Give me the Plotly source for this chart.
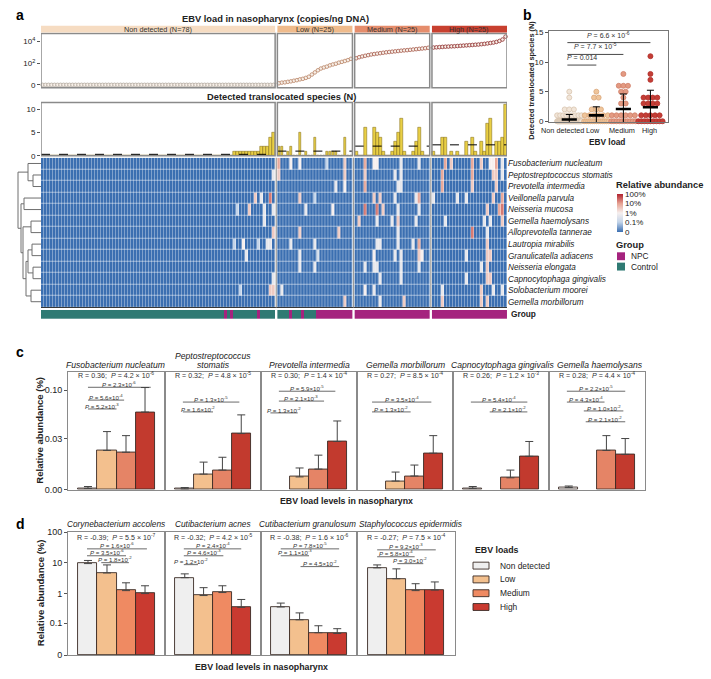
import numpy as np
import plotly.graph_objects as go

W, H = 711, 679
FONT = "Liberation Sans, Arial, sans-serif"
TXT = "#222222"


def px(x):
    return x / W


def py(y):
    return 1 - y / H


# ======================= DATA =======================
groups = ["Non detected", "Low", "Medium", "High"]
group_labels = ["Non detected (N=78)", "Low (N=25)", "Medium (N=25)", "High (N=25)"]

# EBV load in nasopharynx (copies/ng DNA), sorted inside each group
ebv_nd = [0] * 78
ebv_low = [0.4, 0.6, 0.7, 0.9, 1.1, 1.4, 1.7, 2.2, 2.6, 3.4, 4.6, 7.9, 13, 21, 31, 39, 47, 62, 75, 88,
           111, 131, 157, 190, 250]
ebv_med = [281, 354, 416, 478, 549, 630, 691, 758, 831, 911, 999, 1071, 1147, 1229, 1317, 1412, 1513,
           1584, 1697, 1819, 1949, 2088, 2238, 2398, 2630]
ebv_high = [2754, 2883, 3019, 3161, 3310, 3388, 3547, 3630, 3801, 3980, 4168, 4364, 4570, 4785, 5011,
            5247, 5622, 6025, 6606, 7243, 7942, 9119, 11219, 15135, 28183]

# detected translocated species (N) per sample
trans_nd = [0] * 64 + [1] * 9 + [2, 2, 2, 4, 5]
trans_low = [2, 2, 0, 1, 2, 0, 0, 5, 0, 1, 0, 0, 4, 0, 0, 0, 1, 1, 1, 1, 0, 0, 4, 0, 0]
trans_med = [1, 0, 0, 6, 0, 0, 6, 5, 4, 1, 0, 0, 1, 3, 5, 8, 1, 0, 0, 1, 3, 6, 1, 0, 0]
trans_high = [1, 0, 0, 4, 4, 0, 1, 0, 1, 0, 0, 3, 0, 4, 1, 0, 3, 1, 7, 8, 0, 3, 3, 4, 11]

# NPC samples (index within group); the others are controls
npc_nd = [61, 63, 72]
npc_low = [4, 8] + list(range(13, 25))
npc_med = list(range(25))
npc_high = list(range(25))

species_a = ["Fusobacterium nucleatum", "Peptostreptococcus stomatis", "Prevotella intermedia",
             "Veillonella parvula", "Neisseria mucosa", "Gemella haemolysans", "Alloprevotella tannerae",
             "Lautropia mirabilis", "Granulicatella adiacens", "Neisseria elongata",
             "Capnocytophaga gingivalis", "Solobacterium moorei", "Gemella morbillorum"]

# non-zero heatmap cells: (group N/L/M/H, sample index in group, relative abundance %)
heat_cells = [
    [("L", 0, 8), ("L", 4, 1), ("L", 7, 1), ("L", 16, 0.1), ("L", 22, 3), ("M", 3, 8), ("M", 6, 1),
     ("M", 7, 1), ("M", 15, 0.5), ("M", 21, 0.5), ("H", 4, 8), ("H", 6, 3), ("H", 13, 8), ("H", 16, 3),
     ("H", 19, 1), ("H", 20, 1), ("H", 21, 8), ("H", 23, 0.5)],
    [("N", 77, 0.5), ("L", 0, 3), ("L", 22, 3), ("M", 3, 3), ("M", 13, 0.5), ("M", 15, 0.5), ("H", 3, 8),
     ("H", 13, 8), ("H", 20, 3), ("H", 21, 3), ("H", 23, 0.5)],
    [("L", 19, 0.5), ("L", 22, 1), ("M", 3, 8), ("M", 14, 0.5), ("M", 15, 0.5), ("H", 3, 8), ("H", 13, 3),
     ("H", 21, 3)],
    [("N", 71, 3), ("N", 73, 0.5), ("N", 76, 20), ("L", 7, 3), ("L", 12, 0.1), ("M", 6, 3), ("M", 8, 3),
     ("M", 13, 0.5), ("M", 20, 0.5), ("M", 21, 8), ("H", 0, 0.5), ("H", 8, 0.5), ("H", 11, 0.5),
     ("H", 20, 3), ("H", 23, 8)],
    [("N", 65, 0.1), ("N", 69, 3), ("N", 74, 0.5), ("N", 77, 0.5), ("L", 9, 0.5), ("L", 18, 1),
     ("M", 3, 20), ("M", 7, 20), ("M", 9, 3), ("M", 14, 0.5), ("M", 21, 0.5), ("H", 18, 3), ("H", 22, 8),
     ("H", 23, 20)],
    [("N", 74, 0.5), ("M", 1, 3), ("M", 7, 0.5), ("M", 12, 0.5), ("M", 14, 3), ("M", 20, 0.5),
     ("H", 4, 0.5), ("H", 17, 0.5), ("H", 19, 0.5), ("H", 23, 3)],
    [("N", 77, 3), ("L", 7, 3), ("L", 20, 3), ("M", 14, 0.5), ("H", 13, 20), ("H", 18, 0.5)],
    [("N", 64, 0.1), ("N", 67, 1), ("N", 72, 0.1), ("N", 75, 0.5), ("N", 76, 0.5), ("L", 4, 0.5),
     ("L", 12, 0.5), ("M", 7, 0.5), ("M", 8, 0.5), ("M", 14, 0.5), ("M", 19, 0.5), ("M", 21, 8),
     ("H", 18, 3)],
    [("N", 68, 0.5), ("L", 7, 0.5), ("L", 13, 0.2), ("M", 6, 1), ("M", 13, 0.5), ("M", 15, 0.5),
     ("M", 21, 3), ("M", 22, 1), ("H", 11, 0.5), ("H", 18, 3), ("H", 19, 3)],
    [("L", 7, 0.5), ("L", 12, 0.5), ("M", 3, 0.5), ("M", 6, 0.5), ("M", 7, 0.5), ("M", 15, 0.5),
     ("M", 21, 0.5), ("H", 16, 0.5), ("H", 18, 3)],
    [("N", 77, 0.5), ("M", 8, 0.5), ("M", 15, 0.5), ("H", 11, 0.5), ("H", 18, 3), ("H", 19, 3)],
    [("N", 66, 0.1), ("N", 76, 3), ("N", 77, 3), ("L", 1, 0.5), ("M", 3, 1), ("M", 6, 0.5), ("H", 3, 0.5),
     ("H", 16, 3), ("H", 20, 0.5), ("H", 23, 0.5)],
    [("L", 22, 3), ("M", 8, 0.5), ("M", 16, 3), ("H", 3, 3), ("H", 16, 3), ("H", 18, 3)],
]

# row dendrogram: (child a, child b, merge height); leaves 0..12, new nodes 13..
dendro_merges = [(1, 2, 8), (0, 13, 13), (3, 4, 17), (5, 6, 10), (7, 8, 9), (9, 10, 8), (11, 12, 10),
                 (17, 18, 13), (20, 19, 15), (16, 21, 18), (15, 22, 20), (14, 23, 23)]

# panel b tests
b_tests = ["<i>P</i> = 6.6 × 10<sup>-6</sup>", "<i>P</i> = 7.7 × 10<sup>-5</sup>", "<i>P</i> = 0.014"]

# panel c: mean and s.e.m. relative abundance (%) for Non detected, Low, Medium, High
c_species = ["Fusobacterium nucleatum", "Peptostreptococcus<br>stomatis", "Prevotella intermedia",
             "Gemella morbillorum", "Capnocytophaga gingivalis", "Gemella haemolysans"]
c_mean = [[0.0005, 0.0206, 0.0193, 0.061],
          [0.0003, 0.0065, 0.0085, 0.035],
          [0.0, 0.0052, 0.009, 0.0277],
          [0.0, 0.0034, 0.0056, 0.0186],
          [0.0005, 0.0, 0.0048, 0.0165],
          [0.0008, 0.0, 0.0206, 0.0178]]
c_sem = [[0.0007, 0.0164, 0.0137, 0.045],
         [0.0005, 0.0064, 0.0074, 0.022],
         [0.0, 0.0044, 0.0083, 0.0213],
         [0.0, 0.0041, 0.0056, 0.0144],
         [0.0007, 0.0, 0.0037, 0.0112],
         [0.0006, 0.0, 0.0124, 0.0125]]
c_stats = ["R = 0.36;  <i>P</i> = 4.2 × 10<sup>-6</sup>", "R = 0.32;  <i>P</i> = 4.8 × 10<sup>-5</sup>",
           "R = 0.30;  <i>P</i> = 1.4 × 10<sup>-4</sup>", "R = 0.27;  <i>P</i> = 8.5 × 10<sup>-4</sup>",
           "R = 0.26;  <i>P</i> = 1.2 × 10<sup>-3</sup>", "R = 0.28;  <i>P</i> = 4.4 × 10<sup>-4</sup>"]
c_pairs = [
    [(0, 3.3, "2.3×10<sup>-6</sup>"), (0, 1.9, "5.6×10<sup>-4</sup>"), (0, 1.5, "5.2×10<sup>-3</sup>")],
    [(-0.1, 2.9, "1.3×10<sup>-5</sup>"), (-0.1, 1.5, "1.6×10<sup>-2</sup>")],
    [(-0.1, 2.9, "5.9×10<sup>-5</sup>"), (-0.1, 2.3, "2.1×10<sup>-3</sup>"), (-0.55, 0.9, "1.3×10<sup>-2</sup>")],
    [(-0.25, 2.9, "3.5×10<sup>-4</sup>"), (-0.25, 1.8, "1.3×10<sup>-2</sup>")],
    [(-0.1, 2.9, "5.4×10<sup>-4</sup>"), (0.9, 2.9, "2.1×10<sup>-2</sup>")],
    [(-0.1, 3.0, "2.2×10<sup>-5</sup>"), (-0.1, 1.9, "4.3×10<sup>-4</sup>"), (0.8, 2.9, "1.0×10<sup>-2</sup>"),
     (0.9, 3.0, "2.1×10<sup>-2</sup>")],
]
c_pair_y = [[388, 401, 410], [403, 413], [392, 402, 414], [403, 413], [403, 413], [392, 403, 412, 423]]

# panel d
d_species = ["Corynebacterium accolens", "Cutibacterium acnes", "Cutibacterium granulosum",
             "Staphylococcus epidermidis"]
d_mean = [[9.5, 4.7, 1.25, 1.0],
          [3.3, 0.86, 1.08, 0.35],
          [0.36, 0.132, 0.044, 0.041],
          [6.9, 3.05, 1.25, 1.3]]
d_sem = [[2.5, 3.9, 1.0, 0.8],
         [1.1, 0.7, 0.72, 0.29],
         [0.126, 0.096, 0.037, 0.022],
         [1.7, 3.35, 0.85, 1.1]]
d_stats = ["R = -0.39;  <i>P</i> = 5.5 × 10<sup>-7</sup>", "R = -0.32;  <i>P</i> = 4.2 × 10<sup>-5</sup>",
           "R = -0.38;  <i>P</i> = 1.6 × 10<sup>-6</sup>", "R = -0.27;  <i>P</i> = 7.5 × 10<sup>-4</sup>"]
d_pairs = [
    [(-0.05, 3.1, "1.6×10<sup>-6</sup>"), (-0.05, 2.0, "3.5×10<sup>-6</sup>"), (0.7, 2.15, "1.8×10<sup>-2</sup>")],
    [(-0.05, 3.0, "2.4×10<sup>-4</sup>"), (-0.05, 2.05, "4.6×10<sup>-3</sup>"), (-0.05, 0.7, "1.2×10<sup>-2</sup>")],
    [(0, 3.1, "7.8×10<sup>-5</sup>"), (0, 1.5, "1.1×10<sup>-3</sup>"), (1.05, 3.1, "4.5×10<sup>-2</sup>")],
    [(0, 3.05, "9.2×10<sup>-3</sup>"), (0, 1.95, "5.8×10<sup>-4</sup>"), (1.05, 2.4, "3.0×10<sup>-2</sup>")],
]
d_pair_y = [[552, 559, 566], [552, 559, 568], [552, 559, 570], [553, 560, 567]]

# ======================= STYLE =======================
HEAD_COL = ["#f6dcc2", "#efbb8c", "#e58d6c", "#c8402f"]
PT_LINE = ["#b0a79d", "#b98466", "#a65b4b", "#8e2b2b"]
B_FILL = ["#f1e5d8", "#efc59b", "#e39a82", "#c43d36"]
B_LINE = ["#d8c4ae", "#d9a678", "#d17f68", "#b0302b"]
BAR_C = ["#ffffff", "#f3c08e", "#e58466", "#c23a2e"]
BAR_D = ["#efefef", "#f3c08e", "#ef8a62", "#c93a30"]
EDGE = "#3a2a25"
FRAME = "#8a8a8a"
TEAL, MAG = "#2f7a73", "#a5237e"


def gE(v):
    return np.log10(1 + np.asarray(v, float))


def gC(v):
    return np.log10(1 + np.asarray(v, float) / 0.02)


def gD(v):
    return np.log10(1 + np.asarray(v, float) / 0.01)


offsets = [0, 78, 103, 128]
sizes = [78, 25, 25, 25]
GAP = 0.75


def pos(g, j):
    return offsets[g] + j + g * GAP


XR_A = [-0.5, pos(3, 24) + 0.5]

fig = go.Figure()
layout = {}
shapes, ann = [], []


def dom_y(top, bottom):
    return [py(bottom), py(top)]


def blank_axis(**kw):
    d = dict(showgrid=False, zeroline=False, showticklabels=False, ticks="", showline=False)
    d.update(kw)
    return d


def text(x, y, t, size=8, bold=False, xanchor="center", yanchor="middle", angle=0, color=TXT,
         xref="paper", yref="paper", italic=False):
    if bold:
        t = "<b>" + t + "</b>"
    if italic:
        t = "<i>" + t + "</i>"
    ann.append(dict(x=x, y=y, xref=xref, yref=yref, text=t, showarrow=False, xanchor=xanchor,
                    yanchor=yanchor, textangle=angle, font=dict(size=size, color=color, family=FONT)))


# ---------------- panel a : EBV load scatter ----------------
ebv_all = [ebv_nd, ebv_low, ebv_med, ebv_high]
for g in range(4):
    fig.add_trace(go.Scatter(x=[pos(g, j) for j in range(sizes[g])], y=gE(ebv_all[g]), mode="markers",
                             marker=dict(size=3.6, color="#f7efe8", line=dict(color=PT_LINE[g], width=0.8)),
                             xaxis="x", yaxis="y", showlegend=False, cliponaxis=False))
layout["xaxis"] = blank_axis(domain=[px(41), px(507)], range=XR_A, anchor="y")
layout["yaxis"] = dict(domain=dom_y(29, 84), range=[-0.27, 4.73], tickvals=[0, 2, 4],
                       ticktext=["0", "10<sup>2</sup>", "10<sup>4</sup>"], ticks="outside", ticklen=3,
                       tickcolor="#555", tickfont=dict(size=8, color=TXT), showgrid=False, zeroline=False,
                       showline=False, anchor="x")

# ---------------- panel a : translocated species bars ----------------
trans_all = [trans_nd, trans_low, trans_med, trans_high]
for g in range(4):
    fig.add_trace(go.Bar(x=[pos(g, j) for j in range(sizes[g])], y=trans_all[g], width=0.9,
                         marker=dict(color="#e9cf45", line=dict(color="#7a6512", width=0.5)),
                         xaxis="x2", yaxis="y2", showlegend=False))
    m = float(np.mean(trans_all[g]))
    shapes.append(dict(type="line", xref="x2", yref="y2", x0=pos(g, 0) - 0.5, x1=pos(g, sizes[g] - 1) + 0.5,
                       y0=m, y1=m, line=dict(color="black", width=1, dash="dash")))
layout["xaxis2"] = blank_axis(domain=[px(41), px(507)], range=XR_A, anchor="y2")
layout["yaxis2"] = dict(domain=dom_y(99, 153), range=[0, 11.5], tickvals=[0, 5, 10], ticks="outside",
                        ticklen=3, tickcolor="#555", tickfont=dict(size=8, color=TXT), showgrid=False,
                        zeroline=False, showline=False, anchor="x2")

# group boxes / headers
for g in range(4):
    x0, x1 = pos(g, 0) - 0.5, pos(g, sizes[g] - 1) + 0.5
    for ax in ["y", "y2"]:
        shapes.append(dict(type="rect", xref="x" if ax == "y" else "x2", yref=ax + " domain", x0=x0, x1=x1,
                           y0=0, y1=1, line=dict(color=FRAME, width=1.5)))
    shapes.append(dict(type="rect", xref="x", yref="paper", x0=x0, x1=x1, y0=py(28), y1=py(21),
                       fillcolor=HEAD_COL[g], line=dict(width=0)))
    text((x0 + x1) / 2, py(24.5), group_labels[g], size=7.3, xref="x", color="#333")

text(px(275), py(14), "EBV load in nasopharynx (copies/ng DNA)", size=9.3, bold=True)
text(px(281), py(93.5), "Detected translocated species (N)", size=9.3, bold=True)

# ---------------- panel a : heatmap ----------------
gcode = {"N": 0, "L": 1, "M": 2, "H": 3}
Z = np.zeros((len(species_a), 153))
for r, cells in enumerate(heat_cells):
    for gc, j, v in cells:
        Z[r, offsets[gcode[gc]] + j] = gD(v)

for g in range(4):
    fig.add_trace(go.Heatmap(x=[pos(g, j) for j in range(sizes[g])], y=list(range(len(species_a))),
                             z=Z[:, offsets[g]:offsets[g] + sizes[g]], coloraxis="coloraxis",
                             xgap=0.35, ygap=0.5, xaxis="x3", yaxis="y3", hoverinfo="skip"))
layout["xaxis3"] = blank_axis(domain=[px(41), px(507)], range=XR_A, anchor="y3")
layout["yaxis3"] = dict(domain=dom_y(155, 307), range=[12.5, -0.5], side="right", tickvals=list(range(13)),
                        ticktext=species_a, ticks="", tickfont=dict(size=8.2, color=TXT, style="italic"),
                        showgrid=False, zeroline=False, showline=False, anchor="x3")
layout["coloraxis"] = dict(
    cmin=0, cmax=4,
    colorscale=[[0, "#3b6fb1"], [0.26, "#c3d4e9"], [0.5, "#f6efee"], [0.75, "#e6a292"], [1, "#b1222e"]],
    colorbar=dict(x=px(617), xanchor="left", y=py(211), yanchor="middle", len=38, lenmode="pixels",
                  thickness=6, thicknessmode="pixels", outlinewidth=0, xpad=0, ypad=0, ticks="",
                  tickvals=[0, float(gD(0.1)), float(gD(1)), float(gD(10)), float(gD(100))],
                  ticktext=["0", "0.1%", "1%", "10%", "100%"], tickfont=dict(size=8, color=TXT, family=FONT)))
shapes.append(dict(type="line", xref="x3", yref="y3 domain", x0=XR_A[0], x1=XR_A[1], y0=0, y1=0,
                   line=dict(color="#333", width=1)))

# group bar
npc_all = [npc_nd, npc_low, npc_med, npc_high]
for g in range(4):
    flags = [1 if j in npc_all[g] else 0 for j in range(sizes[g])]
    fig.add_trace(go.Heatmap(x=[pos(g, j) for j in range(sizes[g])], y=[0], z=[flags], zmin=0, zmax=1,
                             colorscale=[[0, TEAL], [0.5, TEAL], [0.5, MAG], [1, MAG]], showscale=False,
                             xaxis="x4", yaxis="y4", hoverinfo="skip"))
layout["xaxis4"] = blank_axis(domain=[px(41), px(507)], range=XR_A, anchor="y4")
layout["yaxis4"] = blank_axis(domain=dom_y(309.5, 318.5), range=[-0.5, 0.5], anchor="x4")
text(px(509), py(314), "Group", size=8.3, bold=True, xanchor="left")

# separators across heatmap
for g in range(3):
    xs = (pos(g, sizes[g] - 1) + pos(g + 1, 0)) / 2
    shapes.append(dict(type="line", xref="x3", yref="paper", x0=xs, x1=xs, y0=py(307), y1=py(155),
                       line=dict(color="#9a9a9a", width=1.2)))

# dendrogram
node_y = {i: float(i) for i in range(13)}
node_h = {i: 0.0 for i in range(13)}
dx, dy = [], []
for k, (a, b, hgt) in enumerate(dendro_merges):
    nid = 13 + k
    dx += [node_h[a], hgt, hgt, node_h[b], None]
    dy += [node_y[a], node_y[a], node_y[b], node_y[b], None]
    node_y[nid] = (node_y[a] + node_y[b]) / 2
    node_h[nid] = hgt
fig.add_trace(go.Scatter(x=dx, y=dy, mode="lines", line=dict(color="#6e6e6e", width=1), xaxis="x5",
                         yaxis="y5", showlegend=False, hoverinfo="skip"))
layout["xaxis5"] = blank_axis(domain=[px(17), px(41)], range=[24, 0], anchor="y5")
layout["yaxis5"] = blank_axis(domain=dom_y(155, 307), range=[12.5, -0.5], anchor="x5")

# legends of panel a
text(px(614), py(183), "Relative abundance", size=9.3, bold=True, xanchor="left")
text(px(614), py(244), "Group", size=9.3, bold=True, xanchor="left")
for k, (lab, col) in enumerate([("NPC", MAG), ("Control", TEAL)]):
    yc = 255 + 10.5 * k
    shapes.append(dict(type="rect", xref="paper", yref="paper", x0=px(617), x1=px(625), y0=py(yc + 4),
                       y1=py(yc - 4), fillcolor=col, line=dict(width=0)))
    text(px(629), py(yc), lab, size=8.3, xanchor="left")

# ---------------- panel b ----------------
def swarm(vals, spacing=0.17, maxw=0.45):
    vals = np.asarray(vals)
    off = np.zeros(len(vals))
    for v in np.unique(vals):
        idx = np.where(vals == v)[0]
        n = len(idx)
        w = min(maxw, spacing * (n - 1) / 2)
        off[idx] = np.linspace(-w, w, n) if n > 1 else 0.0
    return off


for g in range(4):
    vals = np.asarray(trans_all[g], float)
    fig.add_trace(go.Scatter(x=g + swarm(vals), y=vals, mode="markers",
                             marker=dict(size=5, color=B_FILL[g], line=dict(color=B_LINE[g], width=0.8)),
                             xaxis="x6", yaxis="y6", showlegend=False, cliponaxis=False))
    m, sd = vals.mean(), vals.std(ddof=1)
    fig.add_trace(go.Scatter(x=[g, g, None, g - 0.13, g + 0.13, None, g - 0.13, g + 0.13],
                             y=[m - sd, m + sd, None, m + sd, m + sd, None, m - sd, m - sd], mode="lines",
                             line=dict(color="black", width=1), xaxis="x6", yaxis="y6", showlegend=False))
    fig.add_trace(go.Scatter(x=[g - 0.28, g + 0.28], y=[m, m], mode="lines", line=dict(color="black", width=2.6),
                             xaxis="x6", yaxis="y6", showlegend=False))
b_line = [(-0.07, 3.0, 13.3), (-0.07, 2.0, 11.3), (-0.07, 1.0, 9.5)]
for (x0, x1, yv), t in zip(b_line, b_tests):
    shapes.append(dict(type="line", xref="x6", yref="y6", x0=x0, x1=x1, y0=yv, y1=yv,
                       line=dict(color="#333", width=0.9)))
    ann.append(dict(x=(x0 + x1) / 2, y=yv + 0.35, xref="x6", yref="y6", text=t, showarrow=False,
                    yanchor="bottom", font=dict(size=7, color="#333", family=FONT)))
layout["xaxis6"] = dict(domain=[px(549), px(668)], range=[-0.75, 3.65], showticklabels=False,
                        ticks="", showgrid=False, zeroline=False,
                        showline=True, mirror=True, linecolor="#777", linewidth=1, anchor="y6")
layout["yaxis6"] = dict(domain=dom_y(26, 119), range=[-0.17, 15.33], tickvals=[0, 5, 10, 15], ticks="outside",
                        ticklen=3, tickcolor="#555", tickfont=dict(size=8, color=TXT), showgrid=False,
                        zeroline=False, showline=True, mirror=True, linecolor="#777", linewidth=1, anchor="x6")
for lab, xc in zip(groups, [562, 593, 622, 649]):
    text(px(xc), py(127), lab, size=7.3)
text(px(607), py(139), "EBV load", size=8.3, bold=True)
text(px(532), py(77), "Detected translocated species (N)", size=7.4, bold=True, angle=-90)

# ---------------- panels c and d ----------------
def bar_panel(n, left, right, top, bottom, means, sems, g, colors, yrange, first, ticks, ticktext):
    xa, ya = "x%d" % n, "y%d" % n
    yv, ea = [], []
    for m, s in zip(means, sems):
        if m > 0:
            yv.append(float(g(m)))
            ea.append(float(g(m + s) - g(m)))
        else:
            yv.append(None)
            ea.append(None)
    fig.add_trace(go.Bar(x=[0, 1, 2, 3], y=yv, marker=dict(color=colors, line=dict(color=EDGE, width=0.9)),
                         error_y=dict(type="data", symmetric=False, array=ea, arrayminus=[0] * 4,
                                      color="#444", thickness=1, width=4),
                         xaxis=xa, yaxis=ya, showlegend=False))
    layout["xaxis%d" % n] = dict(domain=[px(left), px(right)], range=[-1.05, 4.05], showticklabels=False,
                                 ticks="", showgrid=False, zeroline=False, showline=True, mirror=True,
                                 linecolor=FRAME, linewidth=1, anchor=ya)
    yd = dict(domain=dom_y(top, bottom), range=yrange, showgrid=False, zeroline=False, showline=True,
              mirror=True, linecolor=FRAME, linewidth=1, anchor=xa)
    if first:
        yd.update(tickvals=ticks, ticktext=ticktext, ticks="outside", ticklen=3, tickcolor="#555",
                  tickfont=dict(size=9, color=TXT))
    else:
        yd.update(showticklabels=False, ticks="")
    layout["yaxis%d" % n] = yd
    return xa


c_bounds = [68, 165, 261, 357, 453, 549, 645]
c_title_x = [116, 213, 309, 405, 502, 600]
C_TOP, C_BOT = 372, 492
c_top_val = float(gC(0.1)) * (C_BOT - C_TOP) / (C_BOT - 391)
for p in range(6):
    xa = bar_panel(7 + p, c_bounds[p], c_bounds[p + 1], C_TOP, C_BOT, c_mean[p], c_sem[p], gC, BAR_C,
                   [0, c_top_val], p == 0, [float(gC(0)), float(gC(0.03)), float(gC(0.1))],
                   ["0.00", "0.03", "0.10"])
    cx = (c_bounds[p] + c_bounds[p + 1]) / 2
    tx = c_title_x[p]
    if "<br>" in c_species[p]:
        a, b = c_species[p].split("<br>")
        text(px(tx), py(356), a, size=8.6, italic=True)
        text(px(tx), py(365), b, size=8.6, italic=True)
    else:
        text(px(tx), py(365), c_species[p], size=8.6, italic=True)
    text(px(cx), py(376.5), c_stats[p], size=7.1, color="#333")
    for (x0, x1, t), yl in zip(c_pairs[p], c_pair_y[p]):
        shapes.append(dict(type="line", xref=xa, yref="paper", x0=x0, x1=x1, y0=py(yl), y1=py(yl),
                           line=dict(color="#444", width=0.8)))
        text((x0 + x1) / 2, py(yl - 3.2), "<i>P</i> = " + t, size=6.1, xref=xa, color="#333")

text(px(40), py(432), "Relative abundance (%)", size=9.5, bold=True, angle=-90)
text(px(346), py(503), "EBV load levels in nasopharynx", size=8.8, bold=True)

d_bounds = [68, 165, 261, 357, 455]
d_title_x = [116, 213, 307, 410]
D_TOP, D_BOT = 535, 660
for p in range(4):
    xa = bar_panel(13 + p, d_bounds[p], d_bounds[p + 1], D_TOP, D_BOT, d_mean[p], d_sem[p], gD, BAR_D,
                   [0, 4.0], p == 0, [float(gD(v)) for v in [0, 0.1, 1, 10, 100]],
                   ["0", "0.1", "1", "10", "100"])
    cx = (d_bounds[p] + d_bounds[p + 1]) / 2
    text(px(d_title_x[p]), py(527), d_species[p], size=8.3, italic=True)
    text(px(cx), py(540.5), d_stats[p], size=7.1, color="#333")
    for (x0, x1, t), yl in zip(d_pairs[p], d_pair_y[p]):
        shapes.append(dict(type="line", xref=xa, yref="paper", x0=x0, x1=x1, y0=py(yl), y1=py(yl),
                           line=dict(color="#444", width=0.8)))
        text((x0 + x1) / 2, py(yl - 3.6), "<i>P</i> = " + t, size=6.1, xref=xa, color="#333")

text(px(40), py(597), "Relative abundance (%)", size=9.5, bold=True, angle=-90)
text(px(261), py(672), "EBV load levels in nasopharynx", size=8.8, bold=True)

# legend d
text(px(473), py(553), "EBV loads", size=8.8, bold=True, xanchor="left")
for k, g in enumerate(groups):
    yc = 569 + 14 * k
    shapes.append(dict(type="rect", xref="paper", yref="paper", x0=px(473), x1=px(489), y0=py(yc + 3.5),
                       y1=py(yc - 3.5), fillcolor=BAR_D[k], line=dict(color=EDGE, width=0.9)))
    text(px(498), py(yc), g, size=8.4, xanchor="left")

# panel letters
for lab, x, y in [("a", 14, 10), ("b", 521, 10), ("c", 14, 352), ("d", 14, 527)]:
    text(px(x), py(y), lab, size=14, bold=True, xanchor="left", color="black")

layout.update(width=W, height=H, margin=dict(l=0, r=0, t=0, b=0), paper_bgcolor="white",
              plot_bgcolor="white", showlegend=False, bargap=0, shapes=shapes, annotations=ann,
              font=dict(family=FONT, color=TXT))
fig.update_layout(**layout)
fig.write_html("out.html", config={"displayModeBar": False},
               post_script="document.body.style.margin='0px';document.body.style.padding='0px';")
